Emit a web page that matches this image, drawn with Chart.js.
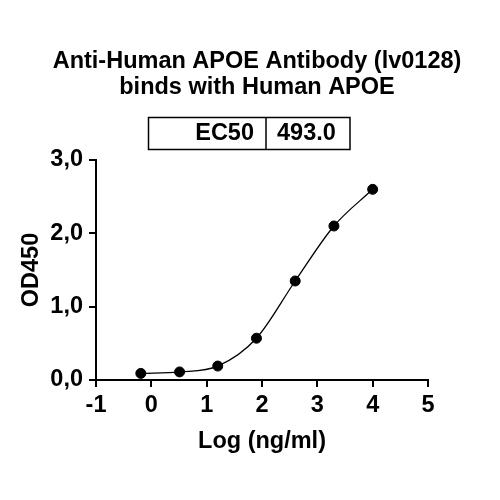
<!DOCTYPE html>
<html>
<head>
<meta charset="utf-8">
<script src="https://cdn.jsdelivr.net/npm/chart.js@4.4.1/dist/chart.umd.min.js"></script>
<style>
  html, body { margin: 0; padding: 0; background: #fff; }
</style>
</head>
<body>
<canvas id="myChart" width="500" height="500"></canvas>
<script>
// values
const logConc = [-0.19, 0.51, 1.2, 1.9, 2.6, 3.3, 4.0];
const od450 = [0.09, 0.11, 0.19, 0.57, 1.35, 2.10, 2.60];
const xTicks = [-1, 0, 1, 2, 3, 4, 5];
const yTicks = [0, 1, 2, 3];
const titleLines = ['Anti-Human APOE Antibody (lv0128)', 'binds with Human APOE'];
const ec50Label = 'EC50';
const ec50Value = '493.0';

const FONT = '"Liberation Sans", Arial, sans-serif';
const SIZE = 23.5;

const points = logConc.map((x, i) => ({ x: x, y: od450[i] }));

// title + EC50 table, drawn on the canvas
const headerPlugin = {
    id: 'header',
    afterDraw(chart) {
        const ctx = chart.ctx;
        ctx.save();
        ctx.fillStyle = '#000';
        ctx.textBaseline = 'middle';
        ctx.textAlign = 'center';
        ctx.font = 'bold ' + SIZE + 'px ' + FONT;
        ctx.fillText(titleLines[0], 257, 62);
        ctx.fillText(titleLines[1], 257, 88);

        ctx.strokeStyle = '#000';
        ctx.lineWidth = 1.5;
        ctx.strokeRect(148.5, 117.5, 201.5, 32);
        ctx.beginPath();
        ctx.moveTo(266, 117.5);
        ctx.lineTo(266, 149.5);
        ctx.stroke();

        ctx.textAlign = 'right';
        ctx.fillText(ec50Label, 254, 134);
        ctx.textAlign = 'left';
        ctx.fillText(ec50Value, 277, 134);
        ctx.restore();
    }
};

const axisLine = {
    display: true,
    drawOnChartArea: false,
    drawTicks: true,
    tickLength: 7,
    color: '#000',
    lineWidth: 2
};

const tickFont = { family: FONT, size: SIZE, weight: 'bold' };

const config = {
    type: 'scatter',
    data: {
        datasets: [{
                label: 'fit',
                data: points,
                showLine: true,
                cubicInterpolationMode: 'monotone',
                borderColor: '#000',
                borderWidth: 1.3,
                pointRadius: 0,
                fill: false
            },
            {
                label: 'OD450',
                data: points,
                showLine: false,
                pointRadius: 5,
                pointBackgroundColor: '#000',
                pointBorderColor: '#000'
            }
        ]
    },
    options: {
        responsive: false,
        animation: false,
        layout: {
            padding: { top: 160, right: 72, bottom: 0, left: 0 }
        },
        plugins: {
            legend: { display: false },
            tooltip: { enabled: false },
            title: { display: false }
        },
        scales: {
            x: {
                type: 'linear',
                min: -1,
                max: 5,
                afterBuildTicks: (s) => { s.ticks = xTicks.map(v => ({ value: v })); },
                afterFit: (s) => { s.height = 120; },
                grid: axisLine,
                border: { display: true, color: '#000', width: 2 },
                ticks: {
                    color: '#000',
                    padding: 4,
                    font: tickFont,
                    callback: (v) => String(v)
                },
                title: {
                    display: true,
                    text: 'Log (ng/ml)',
                    color: '#000',
                    font: tickFont,
                    padding: { top: 0, bottom: 44 }
                }
            },
            y: {
                type: 'linear',
                min: 0,
                max: 3,
                afterBuildTicks: (s) => { s.ticks = yTicks.map(v => ({ value: v })); },
                afterFit: (s) => { s.width = 96; },
                grid: axisLine,
                border: { display: true, color: '#000', width: 2 },
                ticks: {
                    color: '#000',
                    padding: 6,
                    font: tickFont,
                    callback: (v) => v.toFixed(1).replace('.', ',')
                },
                title: {
                    display: true,
                    text: 'OD450',
                    color: '#000',
                    font: tickFont,
                    padding: { top: 17, bottom: 0 }
                }
            }
        }
    },
    plugins: [headerPlugin]
};

const myChart = new Chart(document.getElementById('myChart'), config);
</script>
</body>
</html>
